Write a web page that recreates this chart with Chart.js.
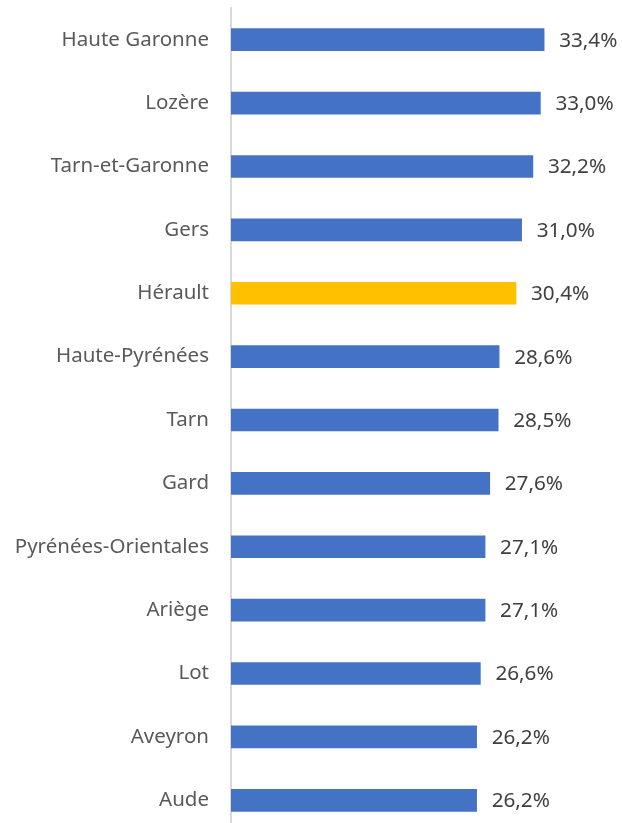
<!DOCTYPE html>
<html>
<head>
<meta charset="utf-8">
<script src="https://cdn.jsdelivr.net/npm/chart.js@4"></script>
<style>
  html, body { margin: 0; padding: 0; background: #fff; overflow: hidden; }
  canvas { display: block; }
</style>
</head>
<body>
<canvas id="chart" width="622" height="832"></canvas>
<script>
// données : part en % par département
const departements = ['Haute Garonne','Lozère','Tarn-et-Garonne','Gers','Hérault','Haute-Pyrénées','Tarn','Gard','Pyrénées-Orientales','Ariège','Lot','Aveyron','Aude'];
const valeurs = [33.4, 33.0, 32.2, 31.0, 30.4, 28.6, 28.5, 27.6, 27.1, 27.1, 26.6, 26.2, 26.2];
const surligne = 'Hérault';

const bleu = '#4472C4';
const jaune = '#FFC000';
const police = '"Noto Sans", "Open Sans", sans-serif';

const fmt = v => v.toFixed(1).replace('.', ',') + '%';

// étiquettes de valeur au bout des barres
const etiquettes = {
  id: 'etiquettes',
  afterDatasetsDraw(chart) {
    const c = chart.ctx;
    const meta = chart.getDatasetMeta(0);
    c.save();
    c.font = '20.7px ' + police;
    c.fillStyle = '#404040';
    c.textAlign = 'left';
    c.textBaseline = 'middle';
    meta.data.forEach((bar, i) => {
      c.fillText(fmt(valeurs[i]), bar.x + 15, bar.y + 1);
    });
    c.restore();
  }
};

new Chart(document.getElementById('chart'), {
  type: 'bar',
  data: {
    labels: departements,
    datasets: [{
      data: valeurs,
      backgroundColor: departements.map(d => d === surligne ? jaune : bleu),
      barThickness: 22,
      borderWidth: 0
    }]
  },
  options: {
    indexAxis: 'y',
    responsive: false,
    animation: false,
    layout: { padding: { top: 8, right: 16, bottom: 0, left: 0 } },
    plugins: { legend: { display: false }, tooltip: { enabled: false } },
    scales: {
      x: {
        display: false,
        min: 0,
        max: 40
      },
      y: {
        afterFit: s => { s.width = 231; s.paddingTop = 0; s.paddingBottom = 0; },
        grid: { display: false, drawTicks: false },
        border: { display: true, color: '#D9D9D9', width: 2 },
        ticks: {
          padding: 22,
          color: '#595959',
          font: { family: police, size: 20.5 }
        }
      }
    }
  },
  plugins: [etiquettes]
});
</script>
</body>
</html>
